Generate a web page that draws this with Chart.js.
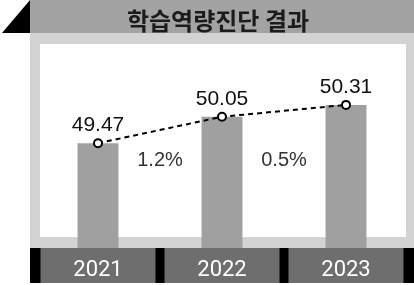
<!DOCTYPE html>
<html>
<head>
<meta charset="utf-8">
<script src="https://cdn.jsdelivr.net/npm/chart.js@4/dist/chart.umd.min.js"></script>
<style>
  body { margin: 0; background: #fff; }
  .wrap { position: relative; width: 414px; height: 285px; }
  canvas { display: block; }
  .title {
    position: absolute; left: 30px; top: 2px; width: 376px; height: 33px;
    line-height: 33px; text-align: center;
    font: bold 24px "Noto Sans CJK KR", sans-serif; color: #1c1c1c;
  }
</style>
</head>
<body>
<div class="wrap">
  <canvas id="chart" width="414" height="285"></canvas>
  <div class="title" id="title"></div>
</div>
<script>
const chartTitle = '학습역량진단 결과';
const years = ['2021', '2022', '2023'];
const scores = [49.47, 50.05, 50.31];
const growth = ['1.2%', '0.5%'];

document.getElementById('title').textContent = chartTitle;

// background panels, title band and the dark year strip
const frame = {
  id: 'frame',
  beforeDraw(chart) {
    const { ctx, chartArea: a, scales: { x } } = chart;
    ctx.save();
    ctx.fillStyle = '#fff';
    ctx.fillRect(0, 0, chart.width, chart.height);
    // black corner triangle
    ctx.fillStyle = '#000';
    ctx.beginPath();
    ctx.moveTo(2, 33); ctx.lineTo(30, 0); ctx.lineTo(30, 33); ctx.closePath();
    ctx.fill();
    // title band
    ctx.fillStyle = '#a3a3a3';
    ctx.fillRect(30, 0, 384, 33);
    // light frame + white inside
    ctx.fillStyle = '#d3d3d3';
    ctx.fillRect(30, 33, 384, a.bottom - 33);
    ctx.fillStyle = '#fff';
    ctx.fillRect(40, 44, 366, a.bottom - 11 - 44);
    // year strip
    ctx.fillStyle = '#000';
    ctx.fillRect(30, a.bottom, 384, 35);
    ctx.fillStyle = '#6e6e6e';
    const step = x.getPixelForValue(1) - x.getPixelForValue(0);
    years.forEach((_, i) => {
      const c = x.getPixelForValue(i);
      ctx.fillRect(c - step / 2 + 4.5, a.bottom, step - 9, 35);
    });
    ctx.restore();
  },
  afterDatasetsDraw(chart) {
    const { ctx, scales: { x }, chartArea: a } = chart;
    const pts = chart.getDatasetMeta(1).data;
    ctx.save();
    ctx.textAlign = 'center';
    ctx.textBaseline = 'alphabetic';
    ctx.fillStyle = '#111';
    ctx.font = '21px "Liberation Sans", Arial, sans-serif';
    pts.forEach((p, i) => ctx.fillText(scores[i].toFixed(2), p.x, p.y - 12));
    ctx.fillStyle = '#333';
    ctx.font = '20px "Liberation Sans", Arial, sans-serif';
    growth.forEach((g, i) => {
      const cx = (x.getPixelForValue(i) + x.getPixelForValue(i + 1)) / 2;
      ctx.fillText(g, cx, a.top + 160);
    });
    ctx.restore();
  }
};

new Chart(document.getElementById('chart'), {
  data: {
    labels: years,
    datasets: [
      {
        type: 'bar',
        data: scores,
        backgroundColor: '#a0a0a0',
        barPercentage: 0.33,
        categoryPercentage: 1,
        order: 2
      },
      {
        type: 'line',
        data: scores,
        borderColor: '#000',
        borderWidth: 2,
        borderDash: [5, 4],
        pointRadius: 4,
        pointBorderWidth: 2,
        pointBackgroundColor: '#fff',
        pointBorderColor: '#000',
        order: 1
      }
    ]
  },
  options: {
    responsive: false,
    animation: false,
    layout: { padding: { left: 36, right: 4, top: 0, bottom: 0 } },
    plugins: { legend: { display: false }, tooltip: { enabled: false } },
    scales: {
      x: {
        grid: { display: false },
        border: { display: false },
        ticks: { color: '#fff', padding: 1, font: { family: 'Roboto', size: 22 } },
        afterFit(scale) { scale.height = 37; }
      },
      y: {
        display: false,
        min: 47.17,
        max: 52.48
      }
    }
  },
  plugins: [frame]
});
</script>
</body>
</html>
